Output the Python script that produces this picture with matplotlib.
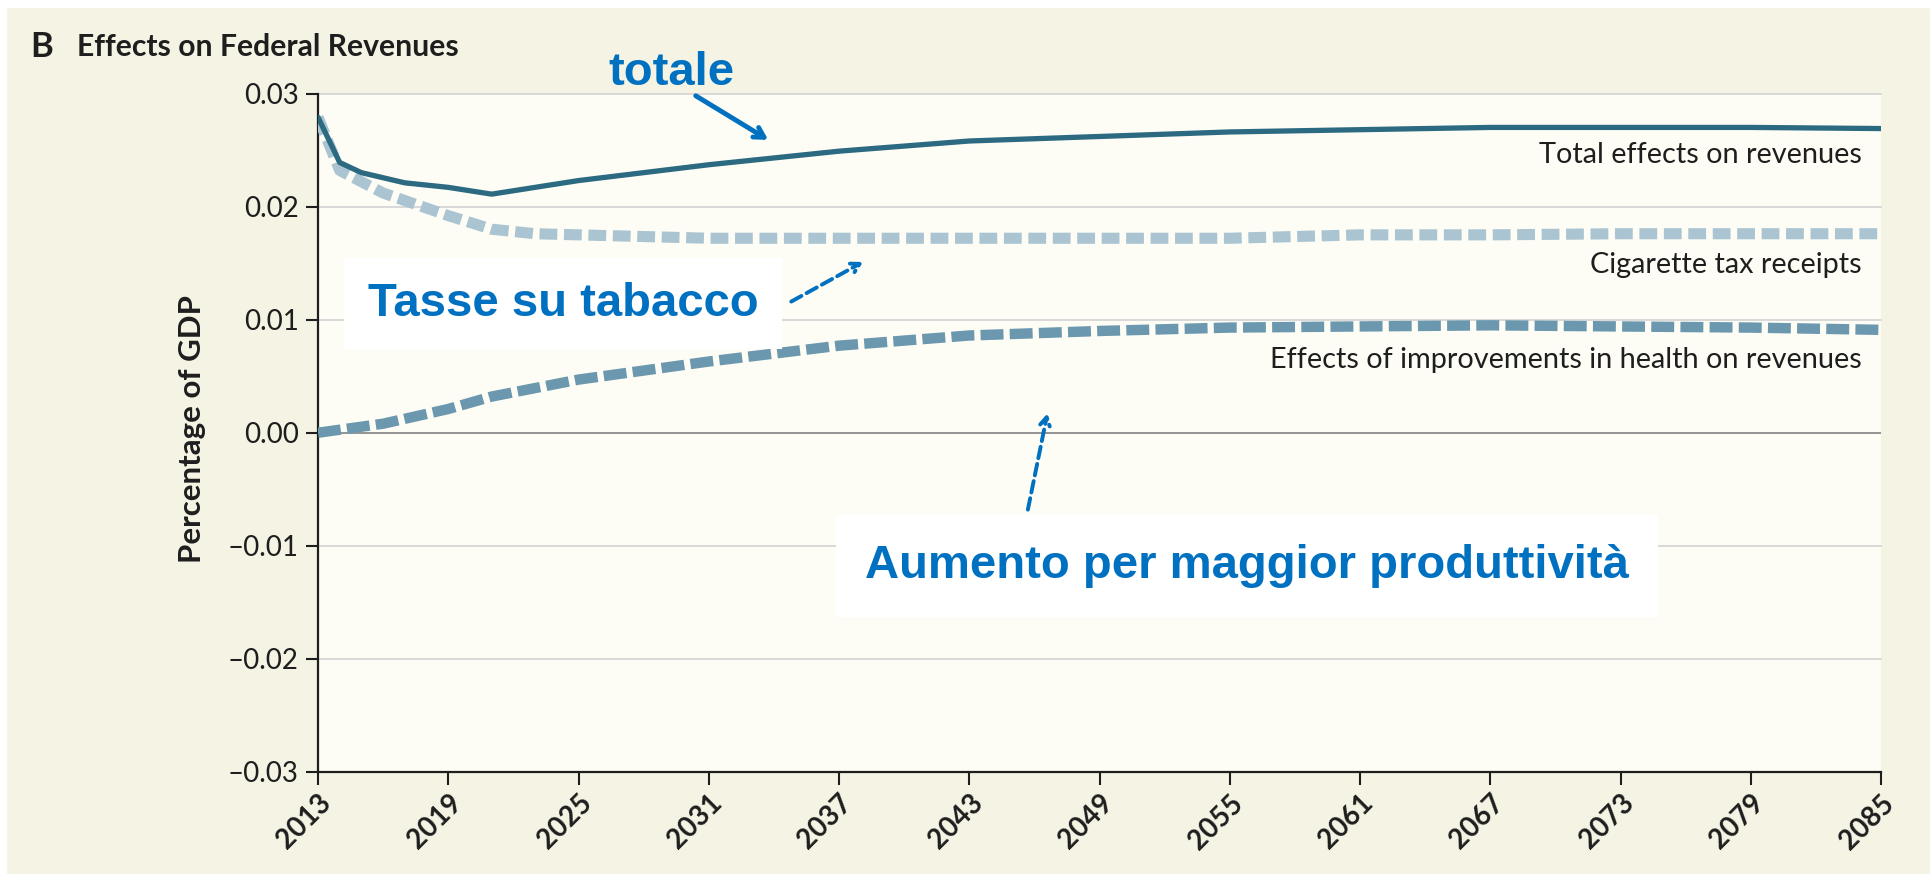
import matplotlib
matplotlib.use("Agg")
import matplotlib.pyplot as plt
from matplotlib import font_manager
from matplotlib.patches import Rectangle

years = [2013, 2014, 2015, 2017, 2019, 2021, 2025, 2031, 2037, 2043, 2049, 2055, 2061, 2067, 2073, 2079, 2085]
total = [0.0279, 0.0239, 0.0230, 0.0221, 0.0217, 0.0211, 0.0223, 0.0237, 0.0249, 0.0258, 0.0262, 0.0266, 0.0268, 0.0270, 0.0270, 0.0270, 0.0269]
cig_years = [2013, 2014, 2016, 2019, 2021, 2023, 2025, 2031, 2037, 2043, 2049, 2055, 2061, 2067, 2073, 2079, 2085]
cigarette = [0.0279, 0.0232, 0.0212, 0.0192, 0.0180, 0.0176, 0.0175, 0.0172, 0.0172, 0.0172, 0.0172, 0.0172, 0.0175, 0.0175, 0.0176, 0.0176, 0.0176]
health_years = [2013, 2016, 2019, 2021, 2025, 2031, 2037, 2043, 2049, 2055, 2061, 2067, 2073, 2079, 2085]
health = [0.0, 0.0008, 0.0021, 0.0032, 0.0047, 0.0063, 0.0077, 0.0086, 0.0090, 0.0093, 0.0094, 0.0095, 0.0094, 0.0093, 0.0091]

xticks = list(range(2013, 2086, 6))
yticks = [-0.03, -0.02, -0.01, 0.0, 0.01, 0.02, 0.03]
ytick_labels = ["–0.03", "–0.02", "–0.01", "0.00", "0.01", "0.02", "0.03"]

names = {f.name for f in font_manager.fontManager.ttflist}
SANS = "Lato" if "Lato" in names else "DejaVu Sans"
ARIAL = "Liberation Sans"
BLUE = "#0070C0"
INK = "#1E1E1E"

fig = plt.figure(figsize=(19.30, 8.74), dpi=100)
fig.patch.set_facecolor("#F5F3E3")
# white border top and left
fig.add_artist(Rectangle((0, 1 - 7 / 874), 1, 7 / 874, transform=fig.transFigure, color="white", zorder=0))
fig.add_artist(Rectangle((0, 0), 6 / 1930, 1, transform=fig.transFigure, color="white", zorder=0))

ax = fig.add_axes([318 / 1930, (874 - 772) / 874, 1563 / 1930, 678.5 / 874])
ax.set_facecolor("#FDFDF5")
ax.set_xlim(2013, 2085)
ax.set_ylim(-0.03, 0.03)

for y in yticks:
    if y == 0:
        ax.axhline(y, color="#8C8C8C", lw=1.3, zorder=1)
    elif y != -0.03:
        ax.axhline(y, color="#D6D6D6", lw=1.3, zorder=1, clip_on=False)

ax.plot(health_years, health, color="#6B98AE", lw=7.5, dashes=(2.2, 0.6), solid_capstyle="butt", zorder=3)
ax.plot(cig_years, cigarette, color="#AAC4D1", lw=8, dashes=(1.6, 0.6), zorder=3)
ax.plot(years, total, color="#2B6A80", lw=3.8, solid_capstyle="round", zorder=4)

for s in ["top", "right"]:
    ax.spines[s].set_visible(False)
for s in ["left", "bottom"]:
    ax.spines[s].set_color(INK)
    ax.spines[s].set_linewidth(1.6)

ax.set_xticks(xticks)
ax.set_xticklabels([str(x) for x in xticks], rotation=45, ha="right", rotation_mode="anchor",
                   fontsize=20, fontweight="bold", family=SANS, color=INK)
ax.set_yticks(yticks)
ax.set_yticklabels(ytick_labels, fontsize=20, family=SANS, color=INK)
ax.tick_params(axis="both", length=9, width=1.5, color=INK, direction="out")
ax.tick_params(axis="y", pad=5)
ax.tick_params(axis="x", pad=4)

ax.set_ylabel("Percentage of GDP", fontsize=22.5, fontweight="bold", family=SANS, color=INK)
ax.yaxis.set_label_coords(-0.0717, 0.505)

fig.text(30 / 1930, 1 - 47 / 874, "B", fontsize=25, fontweight="bold", va="center", ha="left", family=SANS, color=INK)
fig.text(77 / 1930, 1 - 47 / 874, "Effects on Federal Revenues", fontsize=21.7, fontweight="bold",
         va="center", ha="left", family=SANS, color=INK)

ax.text(2084.1, 0.0246, "Total effects on revenues", ha="right", va="center", fontsize=20.8, color=INK, family=SANS)
ax.text(2084.1, 0.0148, "Cigarette tax receipts", ha="right", va="center", fontsize=20.8, color=INK, family=SANS)
ax.text(2084.1, 0.0064, "Effects of improvements in health on revenues", ha="right", va="center",
        fontsize=20.8, color=INK, family=SANS)

# annotations
ax.text(2029.3, 0.0318, "totale", ha="center", va="center", fontsize=34, fontweight="bold",
        color=BLUE, family=ARIAL, clip_on=False)
ax.annotate("", xy=(2033.74, 0.0259), xytext=(2030.4, 0.0298),
            arrowprops=dict(arrowstyle="->,head_length=0.7,head_width=0.4", color=BLUE, lw=3.5,
                            shrinkA=0, shrinkB=0), annotation_clip=False)

ax.text(2024.3, 0.0114, "Tasse su tabacco", ha="center", va="center", fontsize=34, fontweight="bold",
        color=BLUE, family=ARIAL, zorder=6,
        bbox=dict(boxstyle="square,pad=0.5", fc="white", ec="none"))
ax.annotate("", xy=(2038.1, 0.0151), xytext=(2034.8, 0.0116),
            arrowprops=dict(arrowstyle="->,head_length=0.6,head_width=0.35", color=BLUE, lw=2.8,
                            linestyle=(0, (3, 1.5)), shrinkA=0, shrinkB=0), zorder=6)

ax.text(2055.8, -0.0118, "Aumento per maggior produttività", ha="center", va="center", fontsize=34,
        fontweight="bold", color=BLUE, family=ARIAL, zorder=6,
        bbox=dict(boxstyle="square,pad=0.62", fc="white", ec="none"))
ax.annotate("", xy=(2046.6, 0.0017), xytext=(2045.7, -0.0068),
            arrowprops=dict(arrowstyle="->,head_length=0.6,head_width=0.35", color=BLUE, lw=2.8,
                            linestyle=(0, (3, 1.5)), shrinkA=0, shrinkB=0), zorder=6)

fig.savefig("out.png", dpi=100, facecolor=fig.get_facecolor())
